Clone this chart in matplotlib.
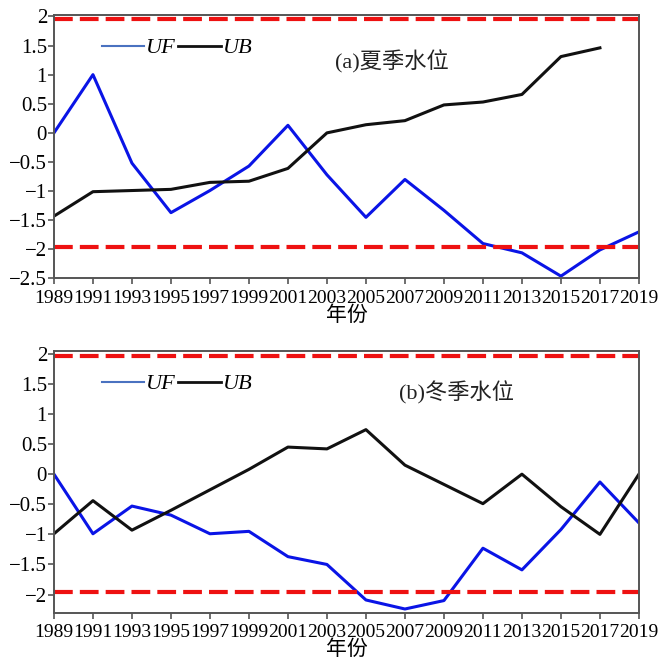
import numpy as np
import matplotlib
matplotlib.use("Agg")
import matplotlib.pyplot as plt
from matplotlib.lines import Line2D

plt.rcParams['font.family'] = ['Liberation Serif', 'Noto Sans CJK SC']
plt.rcParams['axes.unicode_minus'] = True

# years
years = list(range(1989, 2020, 2))

# (a) summer water level
uf_a = [0.0, 1.0, -0.52, -1.37, -0.99, -0.57, 0.13, -0.72, -1.45, -0.80,
        -1.33, -1.90, -2.06, -2.46, -2.01, -1.70]
ub_a = [-1.43, -1.01, -0.99, -0.97, -0.85, -0.83, -0.61, 0.0, 0.14, 0.21,
        0.48, 0.53, 0.66, 1.31, 1.46]
# (b) winter water level
uf_b = [0.0, -0.99, -0.53, -0.68, -0.99, -0.95, -1.37, -1.50, -2.09, -2.24,
        -2.10, -1.23, -1.59, -0.92, -0.13, -0.81]
ub_b = [-0.99, -0.44, -0.93, -0.60, -0.26, 0.08, 0.45, 0.42, 0.74, 0.15,
        -0.17, -0.49, 0.0, -0.54, -1.0, 0.0]

crit = 1.96
yticks_a = [2, 1.5, 1, 0.5, 0, -0.5, -1, -1.5, -2, -2.5]
yticks_b = [2, 1.5, 1, 0.5, 0, -0.5, -1, -1.5, -2]

fig = plt.figure(figsize=(6.58, 6.63), dpi=100)
ax1 = fig.add_axes([0.082, 0.580, 0.889, 0.397])
ax2 = fig.add_axes([0.082, 0.076, 0.889, 0.394])

def draw(ax, uf, ub, ylim, yticks, title, tpos):
    ax.plot(years[:len(uf)], uf, color='#0a14e6', lw=2.2)
    ax.plot(years[:len(ub)], ub, color='#111111', lw=2.2)
    for c in (crit, -crit):
        ax.axhline(c, color='#ee1111', lw=3, dashes=(4.5, 1.7))
    ax.set_xlim(1989, 2019)
    ax.set_ylim(*ylim)
    ax.set_xticks(years)
    ax.set_xticklabels([str(y) for y in years], fontsize=14)
    ax.set_yticks(yticks)
    ax.set_yticklabels([('%g' % v).replace('-', '\u2212') for v in yticks], fontsize=15)
    ax.tick_params(direction='out', length=4, width=1.2, color='#555555', pad=1)
    ax.tick_params(axis='x', pad=4)
    for s in ax.spines.values():
        s.set_color('#555555')
        s.set_linewidth(1.4)
    ax.set_xlabel('年份', fontsize=15, labelpad=0)
    handles = [Line2D([], [], color='#4a72c0', lw=1.5),
               Line2D([], [], color='#111111', lw=2)]
    ax.legend(handles, ['UF', 'UB'], ncol=2, loc='center left',
              bbox_to_anchor=(0.082, 0.875), frameon=False, borderpad=0,
              borderaxespad=0, handlelength=1.9, handletextpad=0.1,
              columnspacing=0.1, prop={'style': 'italic', 'size': 16})
    ax.text(tpos[0], tpos[1], title, transform=ax.transAxes, fontsize=16,
            va='center', ha='left', color='#222222')

draw(ax1, uf_a, ub_a, (-2.5, 2.02), yticks_a, '(a)夏季水位', (0.48, 0.822))
draw(ax2, uf_b, ub_b, (-2.3, 2.04), yticks_b, '(b)冬季水位', (0.59, 0.842))

fig.savefig('out.png', dpi=100)
